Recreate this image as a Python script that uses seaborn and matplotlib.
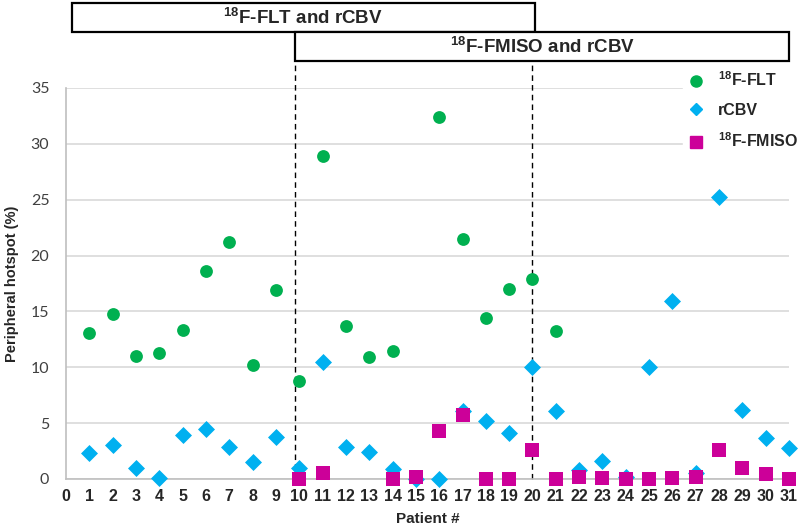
import numpy as np
import pandas as pd
import seaborn as sns
import matplotlib.pyplot as plt
from matplotlib.patches import Rectangle
from matplotlib.lines import Line2D

nan = np.nan

patients = list(range(1, 32))
flt = [13.05, 14.8, 11.0, 11.3, 13.3, 18.6, 21.2, 10.2, 16.95, 8.75,
       28.95, 13.65, 10.95, 11.5, nan, 32.4, 21.5, 14.45, 17.0, 17.9,
       13.25, nan, nan, nan, nan, nan, nan, nan, nan, nan, nan]
rcbv = [2.3, 3.05, 0.95, 0.05, 3.95, 4.45, 2.85, 1.55, 3.8, 0.95,
        10.5, 2.9, 2.45, 0.85, 0.0, 0.0, 6.1, 5.2, 4.15, 10.05,
        6.05, 0.8, 1.6, 0.2, 10.05, 15.95, 0.5, 25.2, 6.15, 3.7, 2.8]
fmiso = [nan, nan, nan, nan, nan, nan, nan, nan, nan, 0.0,
         0.5, nan, nan, 0.0, 0.2, 4.3, 5.7, 0.0, 0.0, 2.55,
         0.0, 0.15, 0.05, 0.0, 0.0, 0.05, 0.15, 2.55, 1.0, 0.45, 0.0]

series_labels = [r'$^{\mathrm{18}}$F-FLT', 'rCBV', r'$^{\mathrm{18}}$F-FMISO']
group_labels = [r'$^{\mathrm{18}}$F-FLT and rCBV', r'$^{\mathrm{18}}$F-FMISO and rCBV']
boundaries = [9.8, 20]

colors = ['#00B050', '#00B0F0', '#CC0099']
markers = ['o', 'D', 's']
sizes = [85, 75, 88]

df = pd.DataFrame({'patient': patients, 'flt': flt, 'rcbv': rcbv, 'fmiso': fmiso})

sns.set_style('white')
plt.rcParams['font.family'] = ['Liberation Sans', 'DejaVu Sans']
plt.rcParams['mathtext.fontset'] = 'custom'
plt.rcParams['mathtext.rm'] = 'Liberation Sans:bold'

fig = plt.figure(figsize=(8, 5.26), dpi=100)
ax = fig.add_axes([0.0825, 0.0894, 0.9038, 0.7433])

for col, c, m, s in zip(['flt', 'rcbv', 'fmiso'], colors, markers, sizes):
    sns.scatterplot(data=df, x='patient', y=col, color=c, marker=m, s=s,
                    linewidth=0, ax=ax, clip_on=False, zorder=3)

ax.set_xlim(0, 31)
ax.set_ylim(0, 35)
ax.set_xticks(range(0, 32))
ax.set_yticks(range(0, 36, 5))
ax.yaxis.grid(True, color='#D9D9D9', linewidth=1.2)
ax.set_axisbelow(True)
for side in ['top', 'right']:
    ax.spines[side].set_visible(False)
for side in ['left', 'bottom']:
    ax.spines[side].set_color('#BFBFBF')
    ax.spines[side].set_linewidth(1.2)

ax.tick_params(axis='x', length=3, color='#BFBFBF', pad=4)
ax.tick_params(axis='y', length=0, pad=12)
for lab in ax.get_xticklabels():
    lab.set_family(['Liberation Sans Narrow', 'Liberation Sans'])
    lab.set_fontweight('bold')
    lab.set_fontsize(11.5)
for lab in ax.get_yticklabels():
    lab.set_family(['Lato', 'DejaVu Sans'])
    lab.set_fontsize(11.5)
    lab.set_color('#404040')

ax.set_xlabel('Patient #', fontsize=11, fontweight='bold', labelpad=6)
ax.set_ylabel('Peripheral hotspot (%)', fontsize=10.5, fontweight='bold', labelpad=8)

# dashed separators reaching up to the group boxes
for b in boundaries:
    ax.plot([b, b], [0, 37.4], color='black', linestyle=(0, (4, 3)),
            linewidth=1, clip_on=False, zorder=2)

# group boxes above the plot
box_specs = [(0.0894, 0.9392, 0.5794, 0.0551), (0.3688, 0.8831, 0.6175, 0.0561)]
for (x0, y0, w, h), txt in zip(box_specs, group_labels):
    fig.patches.append(Rectangle((x0, y0), w, h, transform=fig.transFigure,
                                 facecolor='white', edgecolor='black', linewidth=1.6))
    fig.text(x0 + w / 2, y0 + h / 2, txt, ha='center', va='center',
             fontsize=13.5, fontweight='bold')

handles = [Line2D([], [], linestyle='none', marker=m, color=c, markersize=ms)
           for m, c, ms in zip(markers, colors, [8, 6.5, 8])]
leg = ax.legend(handles, series_labels, loc='upper left',
                bbox_to_anchor=(683 / 800, 1 - 66 / 526), bbox_transform=fig.transFigure,
                frameon=True, facecolor='white', edgecolor='white', framealpha=1,
                borderpad=0.3, borderaxespad=0, handlelength=1.0, handletextpad=0.9,
                labelspacing=0.85, prop={'weight': 'bold', 'size': 11.5})
leg.set_zorder(5)

fig.savefig('out.png', dpi=100)
